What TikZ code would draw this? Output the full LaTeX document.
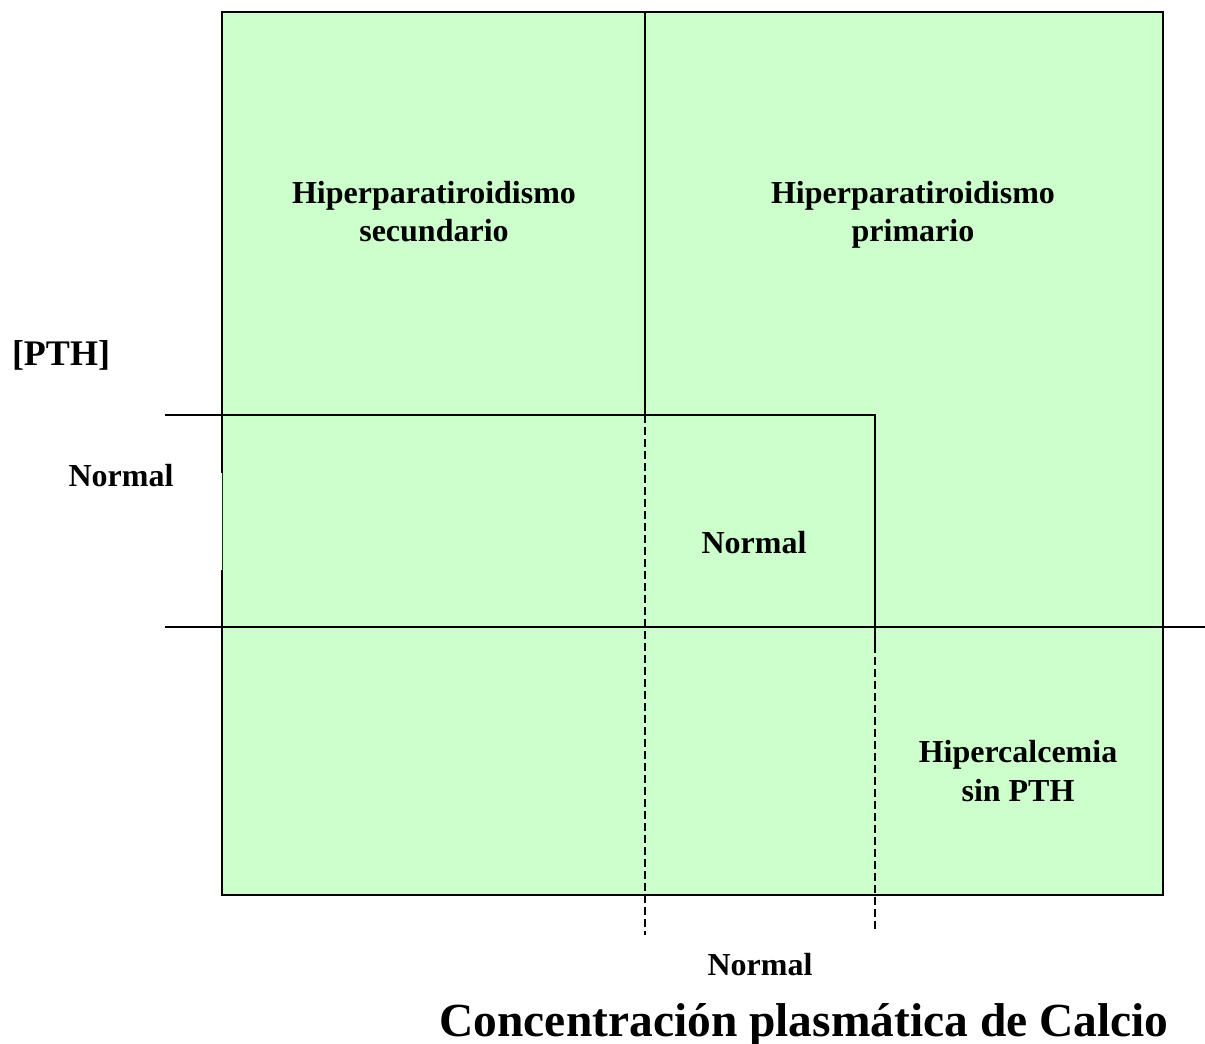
\documentclass[tikz,border=0pt]{standalone}
\usepackage{fontspec}
\setmainfont{Liberation Serif}
\begin{document}
\begin{tikzpicture}[x=0.75pt,y=-0.75pt,
  lbl/.style={font=\bfseries\fontsize{24}{28.8}\selectfont,align=center,inner sep=0pt,anchor=base},
  ln/.style={line width=1.5pt,black},
  dln/.style={line width=1.5pt,black,dash pattern=on 6pt off 3pt}]
\useasboundingbox (0,0) rectangle (1205,1044);
\definecolor{pale}{HTML}{CCFFCC}
\fill[pale] (222,12) rectangle (1163,895);
% outer border
\draw[ln] (222,473) -- (222,12) -- (1163,12) -- (1163,895) -- (222,895) -- (222,570);
\draw[line width=0.6pt,black!60!green!60!black] (222,473) -- (222,570);
% grid lines
\coordinate (v1t) at (645,12);
\coordinate (v1m) at (645,415);
\coordinate (v1b) at (645,935);
\coordinate (v2m) at (875,415);
\coordinate (v2s) at (875,645);
\coordinate (v2b) at (875,930);
\coordinate (h1l) at (165,415);
\coordinate (h2l) at (165,627);
\coordinate (h2r) at (1205,627);
\draw[ln] (v1t) -- (v1m);
\draw[dln] (v1m) -- (v1b);
\draw[ln] (h1l) -- (v2m) -- (v2s);
\draw[dln] (v2s) -- (v2b);
\draw[ln] (h2l) -- (h2r);
% labels (base anchor = baseline of last line)
\node[lbl] (sec) at (434,242) {Hiperparatiroidismo\\secundario};
\node[lbl] (pri) at (913,242) {Hiperparatiroidismo\\primario};
\node[lbl,font=\bfseries\fontsize{27}{32}\selectfont] (pth) at (61,366) {[PTH]};
\node[lbl] (nl) at (121,486) {Normal};
\node[lbl] (nc) at (754,553) {Normal};
\node[lbl] (hip) at (1018,801) {Hipercalcemia\\sin PTH};
\node[lbl] (nb) at (760,975) {Normal};
\node[lbl,font=\bfseries\fontsize{35.6}{42}\selectfont] (cal) at (804,1036) {Concentración plasmática de Calcio};
\end{tikzpicture}
\end{document}
